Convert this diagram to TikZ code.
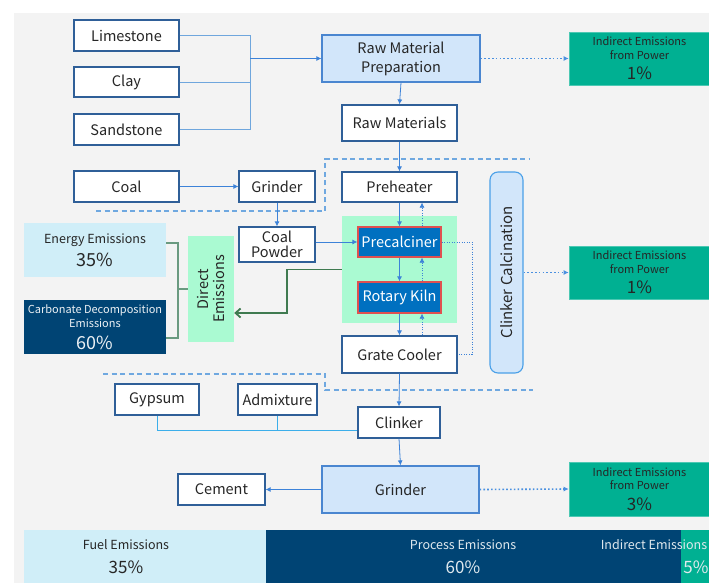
\documentclass[tikz,border=0pt]{standalone}
\usepackage{fontspec}
\setmainfont{Noto Sans CJK SC}
\usetikzlibrary{arrows.meta}

\definecolor{bgray}{HTML}{F3F3F3}
\definecolor{boxedge}{HTML}{2F5F98}
\definecolor{conn}{HTML}{3C82D8}
\definecolor{feedline}{HTML}{6FA6DD}
\definecolor{addline}{HTML}{3BAEEA}
\definecolor{dashline}{HTML}{6FA8E0}
\definecolor{paleblue}{HTML}{D2E6FA}
\definecolor{paleedge}{HTML}{4A86D0}
\definecolor{calcedge}{HTML}{4AA0E8}
\definecolor{palecyan}{HTML}{D0EEF8}
\definecolor{navy}{HTML}{004474}
\definecolor{teal}{HTML}{00B092}
\definecolor{mint}{HTML}{AAFAD2}
\definecolor{kilnblue}{HTML}{0070C0}
\definecolor{kilnedge}{HTML}{E05050}
\definecolor{bracketc}{HTML}{6A9A80}
\definecolor{darkgreen}{HTML}{3F7A50}
\definecolor{dotc}{HTML}{4A90E0}

\tikzset{
  box/.style={draw=boxedge, fill=white, line width=1.2pt, inner sep=0pt, align=center,
    font=\fontsize{14.5}{17}\selectfont, text=black!85},
  palebox/.style={box, draw=paleedge, fill=paleblue},
  kiln/.style={box, draw=kilnedge, fill=kilnblue, text=white},
  power/.style={fill=teal, draw=teal!70!white, line width=0.6pt, inner sep=0pt, align=center, text=black!85,
    font=\fontsize{11}{13.5}\selectfont},
  flow/.style={draw=conn, line width=0.8pt, -{Latex[length=5pt,width=5pt]}},
  feed/.style={draw=feedline, line width=0.8pt},
  addfeed/.style={draw=addline, line width=0.9pt},
  dashsep/.style={draw=dashline, line width=1.2pt, dash pattern=on 5pt off 3.5pt},
  powerlink/.style={draw=dotc, line width=1.6pt, dash pattern=on 1.6pt off 2.2pt, -{Latex[length=5pt,width=5pt]}},
  backflow/.style={draw=conn, line width=0.7pt, dash pattern=on 1pt off 1.5pt, -{Latex[length=5pt,width=5pt]}},
  backline/.style={draw=conn, line width=0.7pt, dash pattern=on 1pt off 1.5pt},
  bracket/.style={draw=bracketc, line width=1.1pt},
  emit/.style={draw=darkgreen, line width=1.8pt, -{Straight Barb[length=5pt,width=9pt]}},
  bartitle/.style={font=\fontsize{12.5}{15}\selectfont},
  barvalue/.style={font=\fontsize{17}{18}\selectfont},
}

\begin{document}
\begin{tikzpicture}[x=1pt, y=-1pt]
\useasboundingbox (0,0) rectangle (709,583);
\fill[white] (0,0) rectangle (709,583);
\fill[bgray] (14,13) rectangle (709,583);

% separators between the process stages
\draw[dashsep] (96,211) -- (325,211) -- (325,159) -- (530,159);
\draw[dashsep] (103,374) -- (325,374) -- (325,390) -- (533,390);

% raw material inputs
\node[box, minimum width=105pt, minimum height=31pt] (lime) at (126.5,35.5) {Limestone};
\node[box, minimum width=105pt, minimum height=30pt] (clay) at (126.5,82) {Clay};
\node[box, minimum width=105pt, minimum height=31pt] (sand) at (126.5,129.5) {Sandstone};
\node[palebox, minimum width=158pt, minimum height=47pt, font=\fontsize{14.5}{19}\selectfont] (rmp) at (401,58.5) {Raw Material\\Preparation};
\node[box, minimum width=115pt, minimum height=36pt] (rawm) at (399.5,123) {Raw Materials};

% fuel line
\node[box, minimum width=105pt, minimum height=31pt] (coal) at (126.5,186.5) {Coal};
\node[box, minimum width=76pt, minimum height=31pt] (grind1) at (277,186.5) {Grinder};
\node[box, minimum width=76pt, minimum height=35pt, font=\fontsize{14.5}{14.5}\selectfont] (coalp) at (277,244.5) {Coal\\Powder};

% kiln system
\node[box, minimum width=115pt, minimum height=30pt] (pre) at (399.5,187) {Preheater};
\node[fill=mint, minimum width=115pt, minimum height=107pt, inner sep=0pt] (panel) at (399.5,269.5) {};
\node[kiln, minimum width=83pt, minimum height=30pt] (precal) at (399.5,242) {Precalciner};
\node[kiln, minimum width=83pt, minimum height=31pt] (rk) at (399.5,297.5) {Rotary Kiln};
\node[box, minimum width=115pt, minimum height=37pt] (gc) at (399.5,354.5) {Grate Cooler};
\node[draw=calcedge, fill=paleblue, line width=1.1pt, rounded corners=8pt, minimum width=33pt, minimum height=201pt,
  inner sep=0pt] (cc) at (506.5,272.5) {};
\node[rotate=90, font=\fontsize{15}{17}\selectfont, text=black!85] (cctext) at (cc.center) {Clinker Calcination};

% direct emissions
\node[fill=palecyan, minimum width=142pt, minimum height=54pt, inner sep=0pt, align=center, text=black!85,
  font=\fontsize{12.5}{15}\selectfont] (energy) at (95,250)
  {Energy Emissions\\[5pt]\fontsize{18}{20}\selectfont 35\%};
\node[fill=navy, minimum width=142pt, minimum height=54pt, inner sep=0pt, align=center, text=white!92!navy,
  font=\fontsize{11}{14}\selectfont] (carb) at (95,327)
  {Carbonate Decomposition\\Emissions\\[8pt]\fontsize{18}{20}\selectfont 60\%};
\node[fill=mint, minimum width=46pt, minimum height=106pt, inner sep=0pt] (direct) at (211,289) {};
\node[rotate=90, align=center, font=\fontsize{14.5}{16}\selectfont, text=black!85] (dtext) at (direct.center) {Direct\\Emissions};

% finishing
\node[box, minimum width=84pt, minimum height=31pt] (gyp) at (157,399.5) {Gypsum};
\node[box, minimum width=79pt, minimum height=31pt] (adm) at (277.5,399.5) {Admixture};
\node[box, minimum width=82pt, minimum height=31pt] (clk) at (399,422.5) {Clinker};
\node[palebox, minimum width=157pt, minimum height=47pt] (grind2) at (400.5,489.5) {Grinder};
\node[box, minimum width=87pt, minimum height=31pt] (cement) at (221.5,489.5) {Cement};

% indirect emissions from power
\node[power, minimum width=141pt, minimum height=53pt] (ind1) at (639.5,58.5)
  {Indirect Emissions\\from Power\\[7pt]\fontsize{17}{18}\selectfont 1\%};
\node[power, minimum width=141pt, minimum height=53pt] (ind2) at (639.5,272.5)
  {Indirect Emissions\\from Power\\[7pt]\fontsize{17}{18}\selectfont 1\%};
\node[power, minimum width=141pt, minimum height=54pt] (ind3) at (639.5,489)
  {Indirect Emissions\\from Power\\[7pt]\fontsize{17}{18}\selectfont 3\%};

% emission share bar
\fill[palecyan] (24,530) rectangle (266,583);
\fill[navy] (266,530) rectangle (681,583);
\fill[teal] (681,530) rectangle (709,583);
\node[bartitle, text=black!85] (fuelt) at (126,545) {Fuel Emissions};
\node[barvalue, text=black!85] (fuelp) at (126,567) {35\%};
\node[bartitle, text=white!88!navy] (proct) at (463,545) {Process Emissions};
\node[barvalue, text=white!88!navy] (procp) at (463,567) {60\%};
\node[bartitle, text=white!88!navy] (indt) at (654,545) {Indirect Emissions};
\node[barvalue, text=white!88!navy] (indp) at (696,567) {5\%};

% raw material feed
\coordinate (j1) at (250,58.5);
\draw[feed] (lime.east) -| (j1);
\draw[feed] (clay.east) -| (j1);
\draw[feed] (sand.east) -| (j1);
\draw[flow] (j1) -- (rmp.west);
\draw[powerlink] (rmp.east) -- (ind1.west);
\draw[flow] (rmp.south) -- (rawm.north);
\draw[flow] (rawm.south) -- (pre.north);

% fuel feed
\draw[flow] (coal.east) -- (grind1.west);
\draw[flow] (grind1.south) -- (coalp.north);
\draw[flow] (coalp.east |- precal.west) -- (precal.west);

% material flow through the kiln
\draw[flow] (pre.south) -- (precal.north);
\draw[flow] (precal.south) -- (rk.north);
\draw[flow] (rk.south) -- (gc.north);
% hot gas / air returning upward
\draw[backflow] ([xshift=22.5pt]gc.north) -- ([xshift=22.5pt]rk.south);
\draw[backflow] ([xshift=22.5pt]rk.north) -- ([xshift=22.5pt]precal.south);
\draw[backflow] ([xshift=22.5pt]precal.north) -- ([xshift=22.5pt]pre.south);
\coordinate (tert) at (472,354.5);
\draw[backline] (precal.east) -| (tert) -- (gc.east);
\draw[powerlink] (cc.east |- ind2.west) -- (ind2.west);

% direct emission routing
\coordinate (g1) at (287,313);
\draw[emit] (panel.west) -| (g1) -- (direct.east |- g1);
\coordinate (b1) at (178,289);
\draw[bracket] ([yshift=7pt]energy.east) -| (b1);
\draw[bracket] ([yshift=-11pt]carb.east) -| (b1);
\draw[bracket] (b1) -- (direct.west |- b1);

% cement grinding
\draw[flow] (gc.south) -- (clk.north);
\coordinate (j3) at ([yshift=-7.5pt]clk.west);
\draw[addfeed] (gyp.south) |- (j3);
\draw[addfeed] (adm.south) -- (adm.south |- j3);
\draw[flow] (clk.south) -- (grind2.north);
\draw[flow] (grind2.west) -- (cement.east);
\draw[powerlink] (grind2.east) -- (ind3.west);
\end{tikzpicture}
\end{document}
